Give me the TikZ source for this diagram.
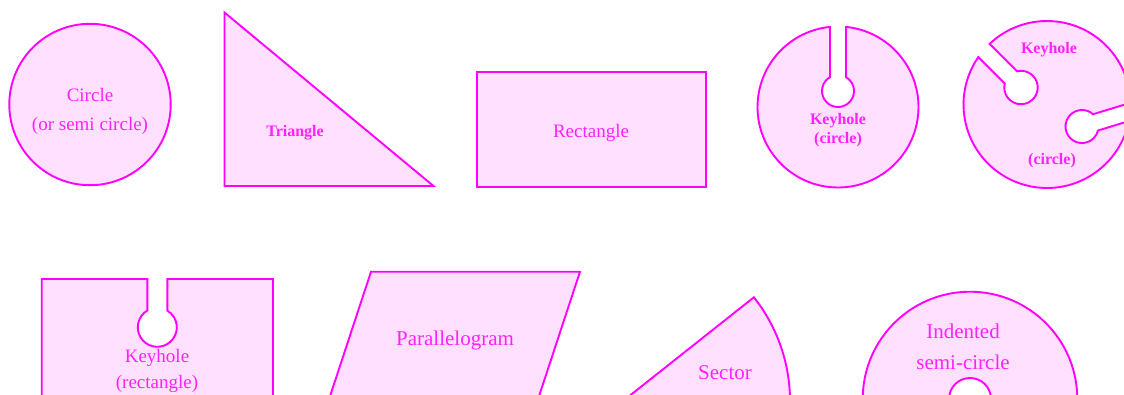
\documentclass[tikz,border=0pt]{standalone}
\usepackage{fontspec}
\setmainfont{Liberation Serif}
\usetikzlibrary{calc}
\definecolor{shapeline}{HTML}{FF00FF}
\definecolor{shapefill}{HTML}{FFE0FF}
\definecolor{shapetext}{HTML}{FF22FF}
\begin{document}
\begin{tikzpicture}[x=1pt,y=-1pt,
  fig/.style={draw=shapeline, fill=shapefill, line width=1.9pt, line join=miter},
  lbl/.style={text=shapetext, inner sep=0pt},
  lblL/.style={lbl, font=\fontsize{19}{22}\selectfont},
  lblXL/.style={lbl, font=\fontsize{21}{24}\selectfont},
  lblS/.style={lbl, font=\fontsize{16}{19}\selectfont\bfseries}]
\useasboundingbox (0,0) rectangle (1124,394);
\fill[white] (0,0) rectangle (1124,394);
\clip (0,0) rectangle (1124,394);

% Circle
\coordinate (C1) at (90,104.5);
\draw[fig] (C1) circle[radius=80.7];
\node[lblL] (circletxt) at (90,94.5) {Circle};
\node[lblL] (circletxtb) at (90,125.5) {(or semi circle)};

% Triangle
\draw[fig] (224.5,12.5) -- (224.5,186) -- (433.5,186) -- cycle;
\node[lblS] (tritxt) at (295,133) {Triangle};

% Rectangle
\draw[fig] (477,72) rectangle (706,187);
\node[lblL] (recttxt) at (591,133) {Rectangle};

% Keyhole circle (one slot)
\coordinate (K1) at (838,107);
\coordinate (K1h) at (838,91);
\draw[fig] ($(K1)+(-84.3:80.5)$) arc[start angle=-84.3,end angle=264.3,radius=80.5]
  -- ($(K1h)+(240:16)$) arc[start angle=240,end angle=-60,radius=16] -- cycle;
\node[lblS] (k1txt) at (838,121) {Keyhole};
\node[lblS] (k1txtb) at (838,140) {(circle)};

% Keyhole circle (two slots)
\coordinate (K2) at (1047,104.5);
\coordinate (K2a) at (1021,87.5);
\coordinate (K2b) at (1082,126.5);
\draw[fig] ($(K2)+(-133.4:83.5)$) arc[start angle=-133.4,end angle=-1.17,radius=83.5]
  -- ($(K2b)+(-48:16.5)$) arc[start angle=-48,end angle=-346,radius=16.5]
  -- ($(K2)+(11.45:83.5)$) arc[start angle=11.45,end angle=214.6,radius=83.5]
  -- ($(K2a)+(193.6:16.7)$) arc[start angle=193.6,end angle=-103.6,radius=16.7]
  -- cycle;
\node[lblS] (k2txt) at (1049,50) {Keyhole};
\node[lblS] (k2txtb) at (1052,161) {(circle)};

% Keyhole rectangle
\coordinate (RH) at (157.3,327.3);
\draw[fig] (167.3,279) -- (273,279) -- (273,430) -- (41.7,430) -- (41.7,279) -- (147.3,279)
  -- ($(RH)+(239.15:19.5)$) arc[start angle=239.15,end angle=-59.15,radius=19.5] -- cycle;
\node[lblL] (krtxt) at (157,357.5) {Keyhole};
\node[lblL] (krtxtb) at (157,383.5) {(rectangle)};

% Parallelogram
\draw[fig] (371,271.7) -- (580,271.7) -- (527.9,430) -- (318.9,430) -- cycle;
\node[lblXL] (partxt) at (455,340.5) {Parallelogram};

% Sector
\coordinate (S) at (623,401);
\draw[fig] (S) -- ($(S)+(-38.4:167)$) arc[start angle=-38.4,end angle=0,radius=167] -- cycle;
\node[lblXL] (sectxt) at (725,372.5) {Sector};

% Indented semi-circle
\coordinate (I) at (970,399);
\draw[fig] ($(I)+(180:107.3)$) arc[start angle=180,end angle=360,radius=107.3]
  -- ($(I)+(0:21)$) arc[start angle=0,end angle=-180,radius=21] -- cycle;
\node[lblXL] (indtxt) at (963,331.5) {Indented};
\node[lblXL] (indtxtb) at (963,362) {semi-circle};
\end{tikzpicture}
\end{document}
